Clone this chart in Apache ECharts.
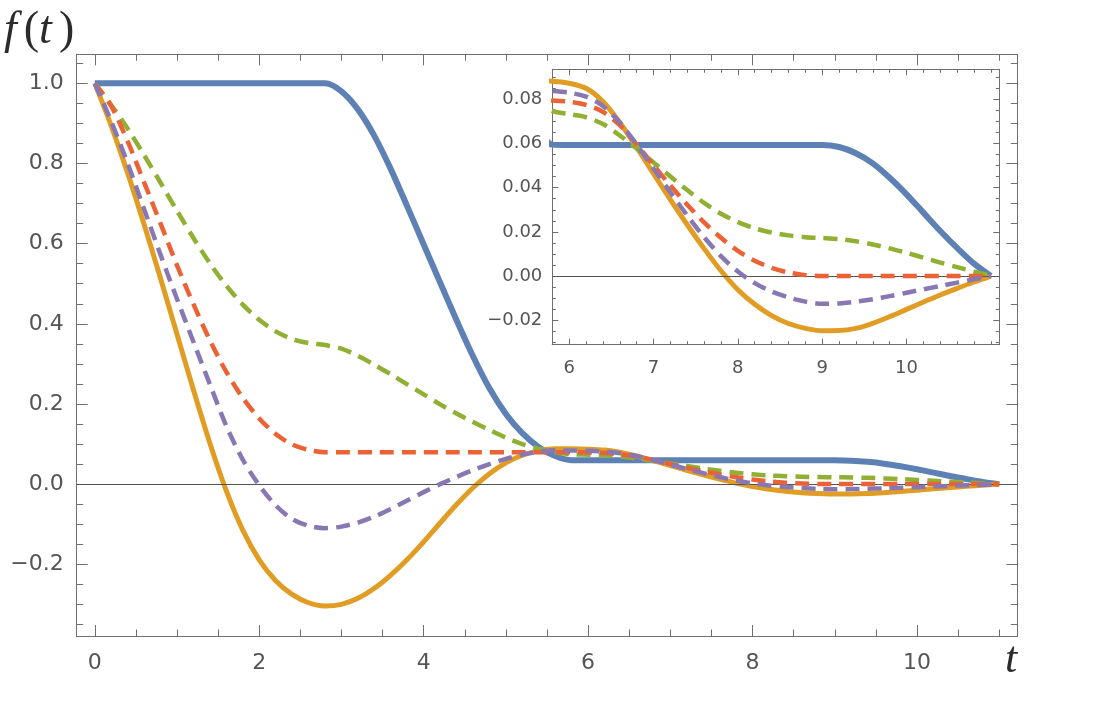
<!DOCTYPE html>
<html><head><meta charset="utf-8">
<script src="https://cdn.jsdelivr.net/npm/echarts@6/dist/echarts.min.js"></script>
<style>html,body{margin:0;padding:0;background:#fff}#c{width:1112px;height:718px}</style>
</head><body><div id="c"></div>
<script>
// ---- data ----
const tValues = [0,0.2,0.4,0.6,0.8,1.0,1.2,1.4,1.6,1.8,2.0,2.2,2.4,2.6,2.8,3.0,3.2,3.4,3.6,3.8,4.0,4.2,4.4,4.6,4.8,5.0,5.2,5.4,5.6,5.8,6.0,6.2,6.4,6.6,6.8,7.0,7.2,7.4,7.6,7.8,8.0,8.2,8.4,8.6,8.8,9.0,9.2,9.4,9.6,9.8,10.0,10.2,10.4,10.6,10.8,11.0];

const blueVals = [1,1,1,1,1,1,1,1,1,1,1,1,1,1,1,
  0.98,0.935,0.869,0.786,0.693,0.598,0.503,0.409,0.319,0.239,0.175,0.127,0.092,0.070,0.0595,
  0.0593,0.0593,0.0593,0.0593,0.0593,0.0593,0.0593,0.0593,0.0593,0.0593,0.0593,0.0593,0.0593,0.0593,0.0593,0.0593,
  0.0584,0.0556,0.051,0.0445,0.037,0.0287,0.0204,0.0127,0.0056,0];

const orangeVals = [1,0.894,0.776,0.648,0.513,0.374,0.235,0.102,-0.017,-0.115,-0.189,-0.241,-0.275,-0.296,-0.304,
  -0.300,-0.285,-0.26,-0.227,-0.188,-0.144,-0.097,-0.051,-0.009,0.026,0.053,0.072,0.0835,0.0883,0.0882,
  0.0873,0.085,0.079,0.0695,0.0582,0.0464,0.0346,0.0232,0.0124,0.0024,-0.0062,-0.0128,-0.0179,-0.0215,-0.0237,-0.0248,
  -0.0247,-0.0237,-0.0214,-0.0184,-0.0151,-0.0118,-0.0086,-0.0056,-0.0027,0];

const greenVals = [1,0.946,0.887,0.821,0.752,0.682,0.614,0.551,0.495,0.448,0.41,0.381,0.362,0.352,0.347,
  0.338,0.32,0.298,0.274,0.249,0.224,0.199,0.176,0.155,0.135,0.116,0.1,0.088,0.0795,0.0748,
  0.0733,0.0719,0.0688,0.0636,0.0577,0.0514,0.0451,0.0389,0.0331,0.0282,0.0244,0.0216,0.0197,0.0184,0.0176,0.0172,
  0.0167,0.0157,0.0143,0.0125,0.0105,0.0083,0.0061,0.004,0.002,0];

const redVals = [1,0.943,0.855,0.753,0.65,0.546,0.449,0.359,0.28,0.215,0.164,0.125,0.099,0.0853,0.0797,
  0.0797,0.0797,0.0797,0.0797,0.0797,0.0797,0.0797,0.0797,0.0797,0.0797,0.0797,0.0797,0.0797,0.0797,0.0795,
  0.0789,0.0775,0.0743,0.0683,0.0596,0.0502,0.041,0.0323,0.0243,0.0173,0.0114,0.0069,0.0037,0.0016,0.0004,0,
  0,0,0,0,0,0,0,0,0,0];

const purpleVals = [1,0.905,0.8,0.686,0.572,0.462,0.355,0.249,0.145,0.061,-0.003,-0.053,-0.087,-0.104,-0.11,
  -0.106,-0.096,-0.081,-0.062,-0.041,-0.02,0.0,0.018,0.035,0.05,0.063,0.0735,0.0805,0.0842,0.0838,
  0.083,0.0812,0.077,0.0695,0.0595,0.0487,0.0379,0.0274,0.0176,0.009,0.002,-0.0032,-0.007,-0.0097,-0.0116,-0.0126,
  -0.0124,-0.0116,-0.0105,-0.0091,-0.0076,-0.006,-0.0045,-0.003,-0.0015,0];

// tick labels
const mainXLabels = [0,2,4,6,8,10];
const mainYLabels = [-0.2,0,0.2,0.4,0.6,0.8,1.0];
const insetXLabels = [6,7,8,9,10];
const insetYLabels = [-0.02,0,0.02,0.04,0.06,0.08];

// ---- helpers ----
function steps(a,b,step){const r=[];const n=Math.round((b-a)/step);for(let i=0;i<=n;i++)r.push(+(a+i*step).toFixed(4));return r;}
function without(arr,ex){return arr.filter(v=>!ex.some(e=>Math.abs(e-v)<1e-9));}
function pairs(vals){return tValues.map((t,i)=>[t,vals[i]]);}

const mainXMinor = without(steps(0,11,0.5), mainXLabels);
const mainYMinor = without(steps(-0.35,1.05,0.05), mainYLabels);
const insetXMinor = without(steps(5.8,11,0.2), insetXLabels);
const insetYMinor = without(steps(-0.03,0.09,0.005), insetYLabels);

const FRAME = '#6f6f6f';
const LABEL = '#555555';
function fmtNum(d){return function(v){const s=Math.abs(v).toFixed(d);return v<-1e-12?'\u2212'+s:s;};}

function axis(grid,pos,min,max,ticks,len,labels,fontSize,margin,fmt){
  return {
    type:'value', gridIndex:grid, position:pos, min:min, max:max, scale:true,
    axisLine:{show:true,onZero:false,lineStyle:{color:FRAME,width:1}},
    axisTick:{show:true,inside:true,length:len,customValues:ticks,lineStyle:{color:FRAME,width:1}},
    axisLabel: labels ? {show:true,customValues:labels,formatter:fmt,color:LABEL,fontFamily:'DejaVu Sans',fontSize:fontSize,margin:margin} : {show:false},
    splitLine:{show:false}, minorTick:{show:false}, axisPointer:{show:false}
  };
}

const MX=[-0.22,11.22], MY=[-0.379,1.0725], IX=[5.8,11.1], IY=[-0.0311,0.0936];

const xAxes = [
  axis(0,'bottom',MX[0],MX[1],mainXLabels,11,mainXLabels,22,16,fmtNum(0)),
  axis(0,'bottom',MX[0],MX[1],mainXMinor,6.5,null),
  axis(0,'top',MX[0],MX[1],mainXLabels,11,null),
  axis(0,'top',MX[0],MX[1],mainXMinor,6.5,null),
  axis(1,'bottom',IX[0],IX[1],insetXLabels,6,insetXLabels,18,15,fmtNum(0)),
  axis(1,'bottom',IX[0],IX[1],insetXMinor,3.5,null),
  axis(1,'top',IX[0],IX[1],insetXLabels,6,null),
  axis(1,'top',IX[0],IX[1],insetXMinor,3.5,null)
];
const yAxes = [
  axis(0,'left',MY[0],MY[1],mainYLabels,11,mainYLabels,22,13,fmtNum(1)),
  axis(0,'left',MY[0],MY[1],mainYMinor,6.5,null),
  axis(0,'right',MY[0],MY[1],mainYLabels,11,null),
  axis(0,'right',MY[0],MY[1],mainYMinor,6.5,null),
  axis(1,'left',IY[0],IY[1],insetYLabels,6,insetYLabels,18,10,fmtNum(2)),
  axis(1,'left',IY[0],IY[1],insetYMinor,3.5,null),
  axis(1,'right',IY[0],IY[1],insetYLabels,6,null),
  axis(1,'right',IY[0],IY[1],insetYMinor,3.5,null)
];

const styles = [
  {name:'blue',   vals:blueVals,   color:'#5E81B5', width:6,   dash:null},
  {name:'orange', vals:orangeVals, color:'#E19C24', width:5,   dash:null},
  {name:'green',  vals:greenVals,  color:'#8FB032', width:4.5, dash:[14,8]},
  {name:'red',    vals:redVals,    color:'#EB6235', width:4.5, dash:[14,8]},
  {name:'purple', vals:purpleVals, color:'#8778B3', width:4.5, dash:[14,8]}
];

const series = [];
[0,1].forEach(function(g){
  const xi = g===0?0:4, yi = g===0?0:4;
  styles.forEach(function(s,k){
    const ser = {
      type:'line', name:s.name+(g?'_inset':''), xAxisIndex:xi, yAxisIndex:yi,
      data:pairs(s.vals), showSymbol:false, symbol:'none', smooth:0.3, clip:true,
      lineStyle:{color:s.color,width:s.width,type:s.dash||'solid',cap:'butt',join:'round'},
      z:2+k, silent:true, animation:false
    };
    if(k===0){
      ser.markLine = {silent:true,symbol:'none',animation:false,label:{show:false},
        lineStyle:{color:'#555',width:1,type:'solid'},emphasis:{disabled:true},data:[{yAxis:0}]};
    }
    series.push(ser);
  });
});

const chart = echarts.init(document.getElementById('c'), null, {renderer:'canvas'});
chart.setOption({
  animation:false,
  backgroundColor:'#ffffff',
  grid:[
    {left:76.7, top:54.3, width:940.6, height:581.7, containLabel:false, outerBoundsMode:'none', show:false},
    {left:552.3, top:69.3, width:447, height:275.4, containLabel:false, outerBoundsMode:'none', show:true, backgroundColor:'#ffffff', borderWidth:0}
  ],
  xAxis:xAxes, yAxis:yAxes, series:series,
  tooltip:{show:false}, legend:{show:false},
  graphic:[
    {type:'text', x:4, y:31, silent:true, style:{
      text:'{a|f}{b|(}{a|t}{b|)}', verticalAlign:'middle', align:'left',
      rich:{
        a:{fontFamily:'Liberation Serif',fontStyle:'italic',fontSize:46,fill:'#2b2b2b',padding:[0,7,0,0]},
        b:{fontFamily:'Liberation Serif',fontSize:46,fill:'#2b2b2b'}
      }}},
    {type:'text', x:1011, y:660, silent:true, style:{
      text:'t', fontFamily:'Liberation Serif', fontStyle:'italic', fontSize:44, fill:'#2b2b2b',
      align:'center', verticalAlign:'middle'}}
  ]
});
</script></body></html>
